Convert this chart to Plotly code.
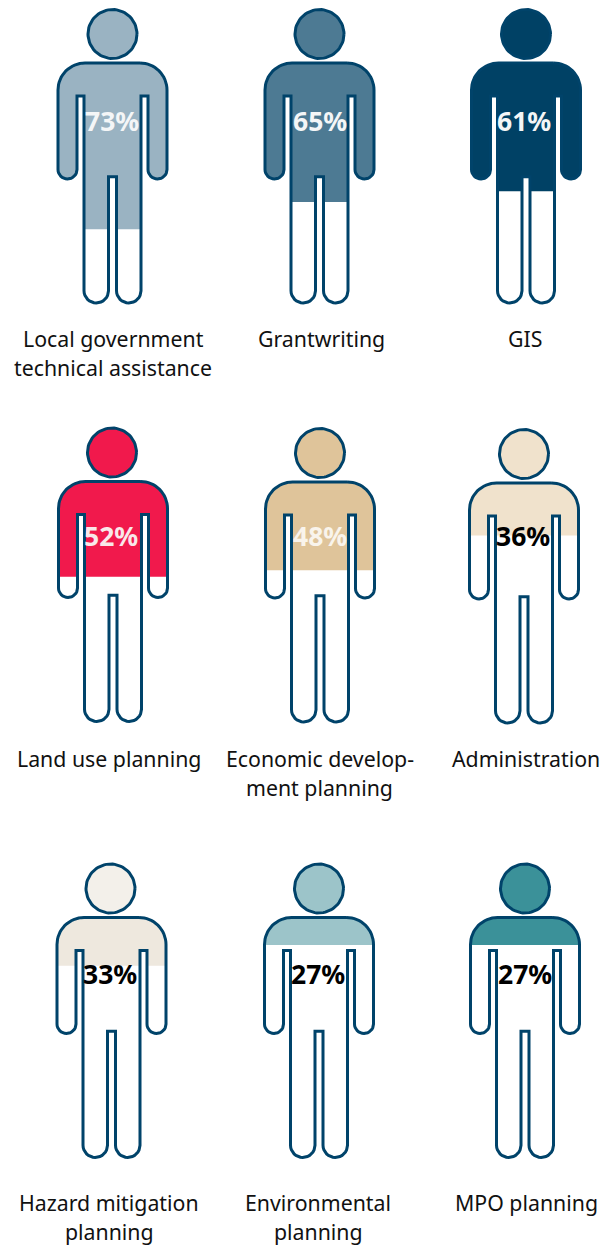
import math
import plotly.graph_objects as go

# ---- data ----
categories = [
    ["Local government", "technical assistance"], ["Grantwriting"], ["GIS"],
    ["Land use planning"], ["Economic develop-", "ment planning"], ["Administration"],
    ["Hazard mitigation", "planning"], ["Environmental", "planning"], ["MPO planning"],
]
percent_values = [73, 65, 61, 52, 48, 36, 33, 27, 27]
fill_share = [0.749, 0.656, 0.619, 0.507, 0.483, 0.361, 0.347, 0.276, 0.276]
fill_colors = ["#9AB3C2", "#4D7A93", "#004165", "#F1194C", "#DFC49A",
               "#F0E2CC", "#EEE8DE", "#9CC4C9", "#3B9199"]
head_colors = ["#9AB3C2", "#4D7A93", "#004165", "#F1194C", "#DFC49A",
               "#F0E2CC", "#F3F0EA", "#9CC4C9", "#3B9199"]
label_colors = ["#F4F6F7", "#F4F6F7", "#F4F6F7", "#F9E8EA", "#F9F4EC",
                "#000000", "#000000", "#000000", "#000000"]

# ---- layout of the figures ----
center_x = [112.5, 319.5, 526, 113, 320, 524, 111.5, 319, 525]
head_shift = [0, 0, 0, -1, 0, 0, -1, 0, 0]
body_top = [63, 63, 63, 481.5, 482, 483, 917.5, 917.5, 917.5]
label_x = [112, 320, 524, 111, 320, 523, 110, 318, 525]
label_y = [121, 121, 121, 536, 536, 536, 974, 974, 974]
caption_x = [113, 321, 525, 109, 319.5, 526, 109, 318, 526]
caption_y = [338.5, 338.5, 338.5, 758.5, 758.5, 758.5, 1202, 1202, 1202]
LINE_STEP = 29
OUTLINE = "#00436A"
W, H = 612, 1245

def arc(cx, cy, r, a0, a1, n=16):
    return [(cx + r * math.cos(math.radians(a0 + (a1 - a0) * i / n)),
             cy + r * math.sin(math.radians(a0 + (a1 - a0) * i / n))) for i in range(n + 1)]

def body_outline():
    half, sh, arm_w, arm_end, pit = 54.5, 27, 19, 116, 33
    hip, leg_end, slit, crotch = 28.5, 240, 4, 113.7
    arm_r = arm_w / 2
    leg_r = (hip - slit) / 2
    right = []
    right += arc(half - sh, sh, sh, -90, 0)
    right += arc(half - arm_r, arm_end - arm_r, arm_r, 0, 180)
    right += [(half - arm_w, pit), (hip, pit)]
    right += arc(hip - leg_r, leg_end - leg_r, leg_r, 0, 180)
    right += [(slit, crotch)]
    left = [(-x, y) for x, y in reversed(right)]
    return right + left

def head_outline():
    return arc(0, -29, 24.5, 0, 360, 72)

def clip_above(points, level):
    """Keep the part of a closed polygon above the level (smaller y on screen)."""
    out = []
    for i, p in enumerate(points):
        q = points[(i + 1) % len(points)]
        pin, qin = p[1] <= level, q[1] <= level
        if pin:
            out.append(p)
        if pin != qin:
            t = (level - p[1]) / (q[1] - p[1])
            out.append((p[0] + t * (q[0] - p[0]), level))
    return out

def closed(points):
    return points + [points[0]]

fig = go.Figure()
body = body_outline()
head = head_outline()

for i in range(len(categories)):
    cx, top = center_x[i], body_top[i]
    figure_top = top - 53.5
    figure_h = 240 + 53.5
    level = figure_top + fill_share[i] * figure_h - top  # local y of the fill edge
    clipped = clip_above(body, level)
    pts = closed(clipped)
    fig.add_trace(go.Scatter(
        x=[cx + p[0] for p in pts], y=[top + p[1] for p in pts],
        mode="lines", fill="toself", fillcolor=fill_colors[i],
        line=dict(width=0, color=fill_colors[i]), hoverinfo="skip", showlegend=False))
    pts = closed(head)
    fig.add_trace(go.Scatter(
        x=[cx + head_shift[i] + p[0] for p in pts], y=[top + p[1] for p in pts],
        mode="lines", fill="toself", fillcolor=head_colors[i],
        line=dict(width=3, color=OUTLINE), hoverinfo="skip", showlegend=False))
    pts = closed(body)
    fig.add_trace(go.Scatter(
        x=[cx + p[0] for p in pts], y=[top + p[1] for p in pts],
        mode="lines", line=dict(width=3, color=OUTLINE),
        hoverinfo="skip", showlegend=False))
    fig.add_annotation(x=label_x[i], y=label_y[i], text=f"<b>{percent_values[i]}%</b>",
                       showarrow=False, xanchor="center", yanchor="middle",
                       font=dict(family="Noto Sans", size=26.5, color=label_colors[i]))
    for j, line in enumerate(categories[i]):
        fig.add_annotation(x=caption_x[i], y=caption_y[i] + j * LINE_STEP, text=line,
                           showarrow=False, xanchor="center", yanchor="middle",
                           font=dict(family="Noto Sans", size=21.3, color="#111111"))

fig.update_xaxes(range=[0, W], visible=False, fixedrange=True)
fig.update_yaxes(range=[H, 0], visible=False, fixedrange=True)
fig.update_layout(width=W, height=H, margin=dict(l=0, r=0, t=0, b=0),
                  paper_bgcolor="white", plot_bgcolor="white", showlegend=False)
fig.write_html("out.html", config=dict(displayModeBar=False),
               post_script="document.body.style.margin='0';document.documentElement.style.overflow='hidden';")
